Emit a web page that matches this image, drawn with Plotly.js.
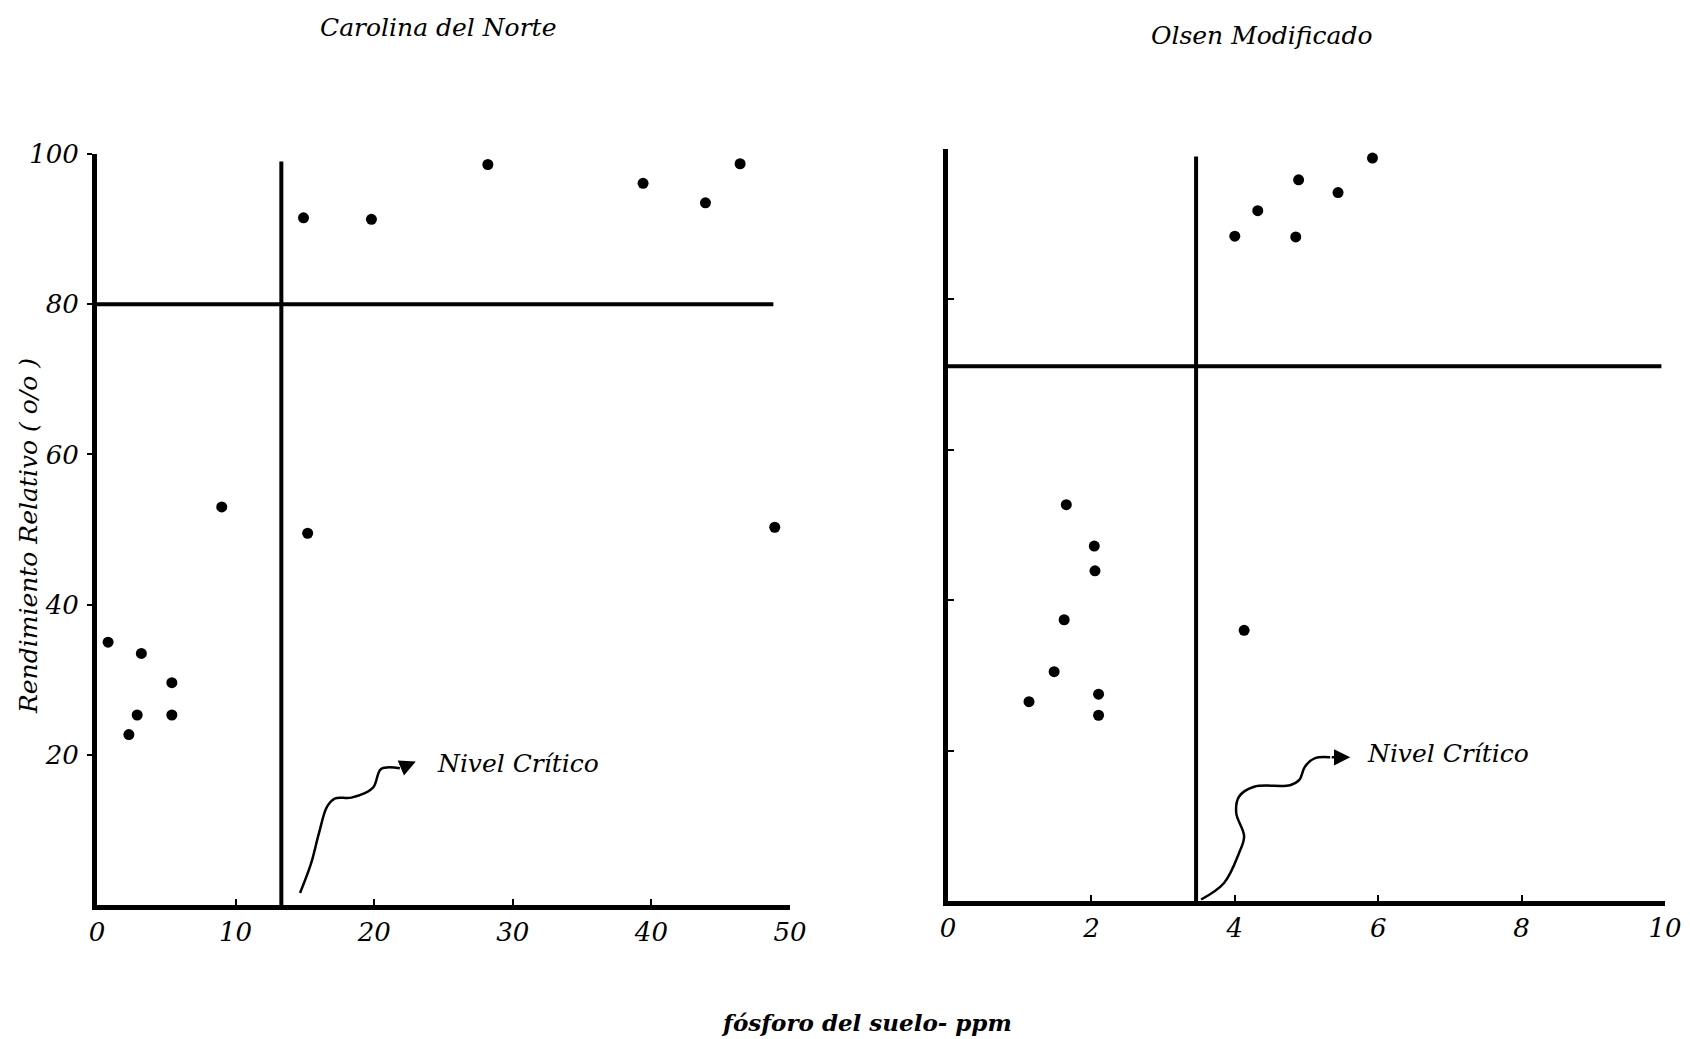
<!DOCTYPE html>
<html>
<head>
<meta charset="utf-8">
<script src="https://cdn.plot.ly/plotly-3.0.1.min.js"></script>
<style>html,body{margin:0;padding:0;background:#fff;}#chart{width:1690px;height:1039px;}</style>
</head>
<body>
<div id="chart"></div>
<script>
// ---- Data: Carolina del Norte (left panel) ----
const ncX = [0.8, 3.2, 5.4, 2.9, 5.4, 2.3, 9.0, 15.2, 14.9, 19.8, 28.2, 39.4, 43.9, 46.4, 48.9];
const ncY = [35.0, 33.5, 29.6, 25.3, 25.3, 22.7, 53.0, 49.5, 91.5, 91.3, 98.6, 96.1, 93.5, 98.7, 50.3];
const ncCriticalX = 13.3;
const ncCriticalY = 80;
const ncXTicks = [0, 10, 20, 30, 40, 50];
const ncYTicks = [20, 40, 60, 80, 100];

// ---- Data: Olsen Modificado (right panel) ----
const olX = [5.92, 4.89, 5.44, 4.32, 4.0, 4.85, 1.65, 2.04, 2.05, 1.62, 4.13, 1.48, 1.13, 2.10, 2.10];
const olY = [98.8, 95.9, 94.2, 91.8, 88.4, 88.3, 52.7, 47.2, 43.9, 37.4, 36.0, 30.5, 26.5, 27.5, 24.7];
const olCriticalX = 3.46;
const olCriticalY = 71.1;
const olXTicks = [0, 2, 4, 6, 8, 10];
const olYTicks = [20, 40, 60, 80];

// ---- "Nivel Crítico" pointer curves (data units) ----
const ncArrowX = [14.65, 15.44, 16.02, 16.6, 17.19, 18.35, 19.9, 20.5, 21.85];
const ncArrowY = [1.6, 5.5, 9.6, 13.1, 14.2, 14.3, 15.6, 18.1, 18.2];
const ncArrowTip = [23.0, 19.1];
const olArrowX = [3.53, 3.85, 4.06, 4.13, 4.02, 4.06, 4.27, 4.77, 4.90, 4.98, 5.12, 5.33];
const olArrowY = [0.2, 2.4, 6.4, 8.6, 11.7, 13.9, 15.2, 15.4, 16.1, 17.9, 19.0, 19.1];
const olArrowTip = [5.61, 19.1];

// ---- Text ----
const titleLeft = "Carolina del Norte";
const titleRight = "Olsen Modificado";
const xTitle = "fósforo del suelo- ppm";
const yTitle = "Rendimiento Relativo ( o/o )";
const critLabel = "Nivel Crítico";

const FONT = "DejaVu Serif";
const ink = "#000";

const markerStyle = {color: ink, size: 11, symbol: "circle"};

const traces = [
  {x: ncX, y: ncY, xaxis: "x", yaxis: "y", mode: "markers", type: "scatter", marker: markerStyle, cliponaxis: false, hoverinfo: "x+y"},
  {x: olX, y: olY, xaxis: "x2", yaxis: "y2", mode: "markers", type: "scatter", marker: markerStyle, cliponaxis: false, hoverinfo: "x+y"},
  {x: ncArrowX, y: ncArrowY, xaxis: "x", yaxis: "y", mode: "lines", type: "scatter", line: {color: ink, width: 2.5, shape: "spline"}, hoverinfo: "skip"},
  {x: olArrowX, y: olArrowY, xaxis: "x2", yaxis: "y2", mode: "lines", type: "scatter", line: {color: ink, width: 2.5, shape: "spline"}, hoverinfo: "skip"}
];

const tickFont = {family: FONT, size: 26, color: ink, style: "italic"};

const layout = {
  width: 1690, height: 1039,
  margin: {l: 0, r: 0, t: 0, b: 0},
  paper_bgcolor: "#fff", plot_bgcolor: "#fff",
  showlegend: false,
  xaxis: {
    domain: [97/1690, 790/1690], range: [0, 50], anchor: "y",
    showline: true, linecolor: ink, linewidth: 5, showgrid: false, zeroline: false,
    tickvals: ncXTicks, ticks: "inside", ticklen: 6, tickwidth: 2, tickcolor: ink,
    tickfont: tickFont, ticklabelstandoff: 0
  },
  yaxis: {
    domain: [1 - 905/1039, 1 - 154/1039], range: [0, 100], anchor: "x",
    showline: true, linecolor: ink, linewidth: 5, showgrid: false, zeroline: false,
    tickvals: ncYTicks, ticks: "outside", ticklen: 5, tickwidth: 2, tickcolor: ink,
    tickfont: tickFont, ticklabelstandoff: 3
  },
  xaxis2: {
    domain: [948/1690, 1665/1690], range: [0, 10], anchor: "y2",
    showline: true, linecolor: ink, linewidth: 5, showgrid: false, zeroline: false,
    tickvals: olXTicks, ticks: "inside", ticklen: 6, tickwidth: 2, tickcolor: ink,
    tickfont: tickFont, ticklabelstandoff: 0
  },
  yaxis2: {
    domain: [1 - 901/1039, 1 - 149/1039], range: [0, 100], anchor: "x2",
    showline: true, linecolor: ink, linewidth: 5, showgrid: false, zeroline: false,
    tickvals: olYTicks, ticks: "inside", ticklen: 6, tickwidth: 2, tickcolor: ink,
    showticklabels: false
  },
  shapes: [
    {type: "line", xref: "x", yref: "y", x0: 0, x1: 48.8, y0: ncCriticalY, y1: ncCriticalY, line: {color: ink, width: 4}},
    {type: "line", xref: "x", yref: "y", x0: ncCriticalX, x1: ncCriticalX, y0: 0, y1: 99, line: {color: ink, width: 4}},
    {type: "line", xref: "x2", yref: "y2", x0: -0.06, x1: 9.95, y0: olCriticalY, y1: olCriticalY, line: {color: ink, width: 4}},
    {type: "line", xref: "x2", yref: "y2", x0: olCriticalX, x1: olCriticalX, y0: 0, y1: 99, line: {color: ink, width: 4}}
  ],
  annotations: [
    {text: titleLeft, xref: "paper", yref: "paper", x: 438/1690, y: 1 - 27/1039, xanchor: "center", yanchor: "middle", showarrow: false,
     font: {family: FONT, size: 25, color: ink, style: "italic"}},
    {text: titleRight, xref: "paper", yref: "paper", x: 1261/1690, y: 1 - 36/1039, xanchor: "center", yanchor: "middle", showarrow: false,
     font: {family: FONT, size: 25, color: ink, style: "italic"}},
    {text: xTitle, xref: "paper", yref: "paper", x: 866/1690, y: 1 - 1022/1039, xanchor: "center", yanchor: "middle", showarrow: false,
     font: {family: FONT, size: 23, color: ink, style: "italic", weight: "bold"}},
    {text: yTitle, xref: "paper", yref: "paper", x: 28/1690, y: 1 - 536/1039, xanchor: "center", yanchor: "middle", showarrow: false, textangle: -90,
     font: {family: FONT, size: 25, color: ink, style: "italic"}},
    {text: critLabel, xref: "x", yref: "y", x: 24.4, y: 18.8, xanchor: "left", yanchor: "middle", showarrow: false,
     font: {family: FONT, size: 25, color: ink, style: "italic"}},
    {text: critLabel, xref: "x2", yref: "y2", x: 5.82, y: 19.6, xanchor: "left", yanchor: "middle", showarrow: false,
     font: {family: FONT, size: 25, color: ink, style: "italic"}},
    {text: "", xref: "x", yref: "y", x: ncArrowTip[0], y: ncArrowTip[1], axref: "x", ayref: "y",
     ax: ncArrowX[ncArrowX.length - 1], ay: ncArrowY[ncArrowY.length - 1],
     showarrow: true, arrowhead: 2, arrowsize: 1.3, arrowwidth: 2.5, arrowcolor: ink},
    {text: "", xref: "x2", yref: "y2", x: olArrowTip[0], y: olArrowTip[1], axref: "x2", ayref: "y2",
     ax: olArrowX[olArrowX.length - 1], ay: olArrowY[olArrowY.length - 1],
     showarrow: true, arrowhead: 2, arrowsize: 1.3, arrowwidth: 2.5, arrowcolor: ink}
  ]
};

Plotly.newPlot("chart", traces, layout, {displayModeBar: false, staticPlot: true});
</script>
</body>
</html>
